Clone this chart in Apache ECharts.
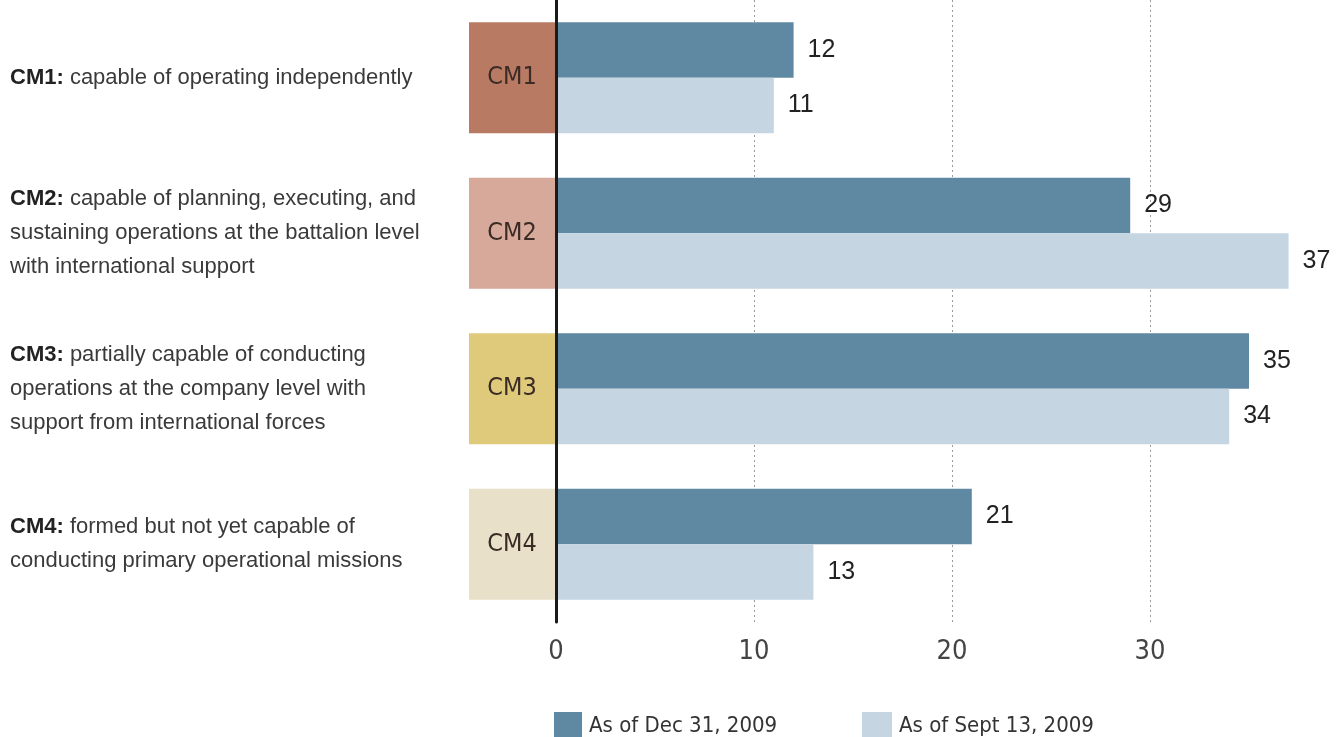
<!DOCTYPE html>
<html>
<head>
<meta charset="utf-8">
<script src="https://cdn.jsdelivr.net/npm/echarts@6/dist/echarts.min.js"></script>
<style>
html,body{margin:0;padding:0;background:#fff;}
#chart{width:1337px;height:737px;}
</style>
</head>
<body>
<div id="chart"></div>
<script>
var categories = ['CM1', 'CM2', 'CM3', 'CM4'];
var descriptions = [
  ['capable of operating independently'],
  ['capable of planning, executing, and', 'sustaining operations at the battalion level', 'with international support'],
  ['partially capable of conducting', 'operations at the company level with', 'support from international forces'],
  ['formed but not yet capable of', 'conducting primary operational missions']
];
var seriesNames = ['As of Dec 31, 2009', 'As of Sept 13, 2009'];
var dec2009 = [12, 29, 35, 21];
var sept2009 = [11, 37, 34, 13];
var xMin = 0, xMax = 40, xStep = 10;

var boxColors = ['#b97a64', '#d6a99b', '#dfca7c', '#e8e0c8'];
var narrow = '"DejaVu Sans Condensed", "Liberation Sans Narrow", sans-serif';
var regular = '"Liberation Sans", Arial, sans-serif';

var boxRich = {};
categories.forEach(function (c, i) {
  boxRich['b' + i] = {
    backgroundColor: boxColors[i], width: 86, height: 111, lineHeight: 111,
    align: 'center', verticalAlign: 'middle',
    fontFamily: narrow, fontSize: 25, color: '#3b2b25'
  };
});

var chart = echarts.init(document.getElementById('chart'), null, {renderer: 'canvas'});
chart.setOption({
  animation: false,
  backgroundColor: '#ffffff',
  grid: {left: 556, top: 0, width: (xMax - xMin) * 19.8, height: 622, containLabel: false, outerBoundsMode: 'none'},
  xAxis: {
    type: 'value', min: xMin, max: xMax, interval: xStep,
    axisLine: {show: false}, axisTick: {show: false},
    splitLine: {show: true, lineStyle: {color: '#9a9a9a', width: 1, type: [2, 3]}},
    axisLabel: {
      margin: 16, color: '#444', fontFamily: narrow, fontSize: 27,
      formatter: function (v) { return v >= xMax ? '' : String(v); }
    }
  },
  yAxis: [{
    type: 'category', data: categories, inverse: true,
    axisLine: {show: true, lineStyle: {color: '#1a1a1a', width: 3}},
    axisTick: {show: false},
    axisLabel: {
      interval: 0, margin: 1,
      formatter: function (v, i) { return '{b' + i + '|' + v + '}'; },
      rich: boxRich
    },
    z: 5
  }, {
    type: 'category', data: categories, inverse: true, position: 'left',
    axisLine: {show: false}, axisTick: {show: false}, splitLine: {show: false},
    axisLabel: {
      interval: 0, margin: 546, align: 'left',
      fontFamily: regular, fontSize: 22, color: '#3a3a3a', lineHeight: 34,
      formatter: function (v, i) {
        var lines = descriptions[i].slice();
        lines[0] = '{b|' + v + ':} ' + lines[0];
        return lines.join('\n');
      },
      rich: {b: {fontFamily: regular, fontSize: 22, fontWeight: 'bold', color: '#222', lineHeight: 34}}
    }
  }],
  legend: [{
    data: [seriesNames[0]], left: 549, top: 707, itemWidth: 28, itemHeight: 28,
    icon: 'rect', textStyle: {fontFamily: narrow, fontSize: 22, color: '#333', padding: [0, 0, 0, 2]}
  }, {
    data: [seriesNames[1]], left: 857, top: 707, itemWidth: 30, itemHeight: 28,
    icon: 'rect', textStyle: {fontFamily: narrow, fontSize: 22, color: '#333', padding: [0, 0, 0, 2]}
  }],
  series: [{
    name: seriesNames[0], type: 'bar', data: dec2009,
    barGap: '0%', barCategoryGap: '28.6%',
    itemStyle: {color: '#5f88a3'},
    label: {show: true, position: 'right', distance: 14, fontFamily: regular, fontSize: 25, color: '#222'}
  }, {
    name: seriesNames[1], type: 'bar', data: sept2009,
    barGap: '0%', barCategoryGap: '28.6%',
    itemStyle: {color: '#c5d5e1'},
    label: {show: true, position: 'right', distance: 14, fontFamily: regular, fontSize: 25, color: '#222'}
  }]
});
</script>
</body>
</html>
